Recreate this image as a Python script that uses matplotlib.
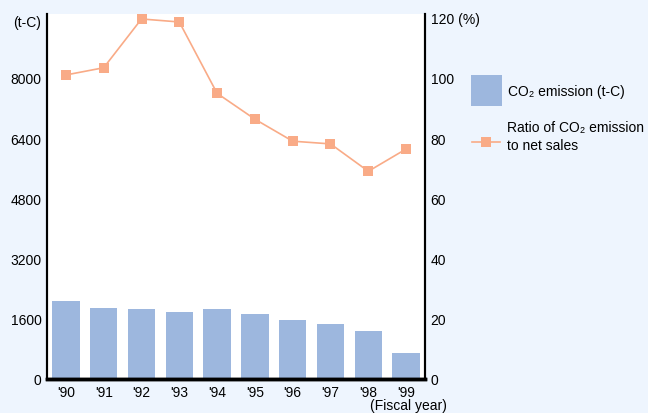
import matplotlib
matplotlib.use("Agg")
import matplotlib.pyplot as plt
from matplotlib.lines import Line2D
from matplotlib.patches import Patch

plt.rcParams['font.family'] = ['Liberation Sans', 'DejaVu Sans']
plt.rcParams['font.size'] = 10

years = ["'90", "'91", "'92", "'93", "'94", "'95", "'96", "'97", "'98", "'99"]
co2_emission = [2070, 1890, 1860, 1780, 1860, 1730, 1570, 1460, 1280, 690]
ratio_to_sales = [101.0, 103.4, 119.6, 118.6, 94.9, 86.3, 79.0, 78.1, 69.0, 76.4]

left_ticks = [0, 1600, 3200, 4800, 6400, 8000]
right_ticks = [0, 20, 40, 60, 80, 100, 120]
right_labels = ["0", "20", "40", "60", "80", "100", "120 (%)"]

bg = '#EEF5FE'
bar_color = '#9DB7DE'
line_color = '#F9AB87'

fig = plt.figure(figsize=(6.48, 4.14), dpi=100, facecolor=bg)
ax = fig.add_axes([47 / 648, 34 / 414, 378 / 648, 365 / 414])
ax.set_facecolor('white')

x = range(len(years))
ax.bar(x, co2_emission, width=0.73, color=bar_color, zorder=2)
ax.set_xlim(-0.5, 9.5)
ax.set_ylim(0, 9700)
ax.set_yticks(left_ticks)
ax.set_xticks(list(x))
ax.set_xticklabels(years)
ax.tick_params(axis='x', length=0, pad=4)
ax.tick_params(axis='y', length=0, pad=4)

ax2 = ax.twinx()
ax2.plot(x, ratio_to_sales, color=line_color, lw=1.2, marker='s',
         markersize=7.5, markeredgewidth=0, zorder=3)
ax2.set_ylim(0, 121.25)
ax2.set_yticks(right_ticks)
ax2.set_yticklabels(right_labels)
ax2.tick_params(length=0, pad=4)

for a in (ax, ax2):
    a.spines['top'].set_visible(False)
    a.spines['left'].set_linewidth(1.5)
    a.spines['right'].set_linewidth(1.5)
    a.spines['bottom'].set_linewidth(2.5)

fig.text(41 / 648, 1 - 23 / 414, '(t-C)', ha='right', va='center')
fig.text(447 / 648, 1 - 406 / 414, '(Fiscal year)', ha='right', va='center')

# legend: bar entry through fig.legend, line entry laid out by hand
fig.legend([Patch(facecolor=bar_color, edgecolor='none')],
           ['CO\u2082 emission (t-C)'], loc='upper left',
           bbox_to_anchor=(471 / 648, 1 - 76 / 414), frameon=False,
           borderpad=0, borderaxespad=0, handlelength=2.2,
           handleheight=3.1, handletextpad=0.45)

fig.add_artist(Line2D([472 / 648, 500 / 648], [1 - 143 / 414, 1 - 143 / 414],
                      transform=fig.transFigure, color=line_color, lw=1.2))
fig.add_artist(Line2D([486 / 648], [1 - 143 / 414], transform=fig.transFigure,
                      color=line_color, marker='s', markersize=7.5,
                      markeredgewidth=0, ls='none'))
fig.text(507 / 648, 1 - 137 / 414, 'Ratio of CO\u2082 emission\nto net sales',
         ha='left', va='center', linespacing=1.35)

fig.savefig('out.png', dpi=100, facecolor=bg)
